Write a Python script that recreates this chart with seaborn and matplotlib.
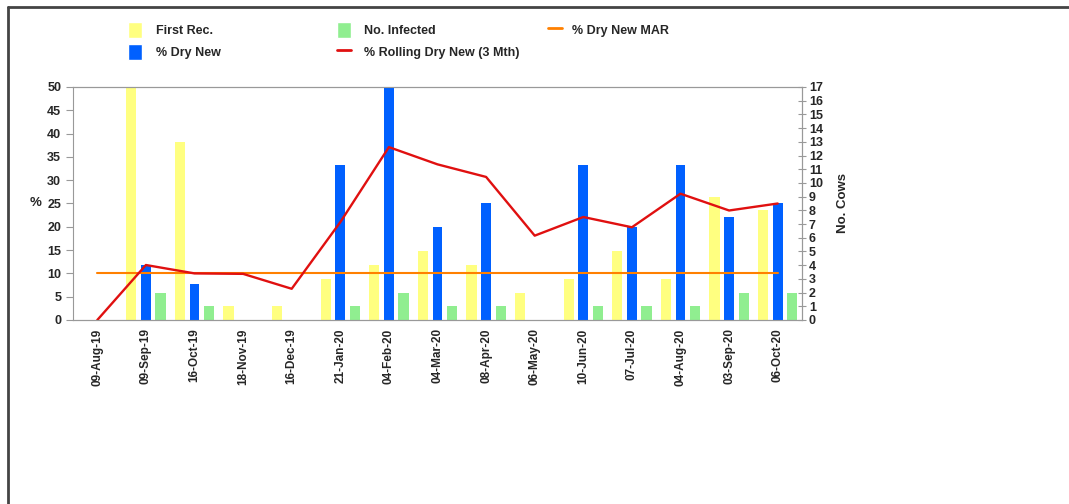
import numpy as np
import pandas as pd
import matplotlib
matplotlib.use("Agg")
import matplotlib.pyplot as plt
import seaborn as sns
from matplotlib.patches import Patch
from matplotlib.lines import Line2D

# ---------------- data ----------------
dates = ["09-Aug-19", "09-Sep-19", "16-Oct-19", "18-Nov-19", "16-Dec-19",
         "21-Jan-20", "04-Feb-20", "04-Mar-20", "08-Apr-20", "06-May-20",
         "10-Jun-20", "07-Jul-20", "04-Aug-20", "03-Sep-20", "06-Oct-20"]
first_rec = [0, 17, 13, 1, 1, 3, 4, 5, 4, 2, 3, 5, 3, 9, 8]          # cows
no_infected = [0, 2, 1, 0, 0, 1, 2, 1, 1, 0, 1, 1, 1, 2, 2]          # cows
pct_dry_new = [0, 11.8, 7.7, 0, 0, 33.3, 50, 20, 25, 0, 33.3, 20, 33.3, 22.2, 25]
pct_rolling = [0, 11.8, 10.0, 9.9, 6.7, 21.0, 37.1, 33.4, 30.7, 18.1, 22.1, 19.9, 27.1, 23.5, 25.0]
pct_mar = [10] * len(dates)

YELLOW = "#ffff80"
GREEN = "#90ee90"
BLUE = "#0060ff"
RED = "#e01010"
ORANGE = "#ff8000"
GREY = "#999999"

sns.set_style("white")
plt.rcParams['font.family'] = ['Liberation Sans', 'DejaVu Sans']
plt.rcParams['font.weight'] = 'bold'

fig = plt.figure(figsize=(10.69, 5.04), dpi=100)
ax = fig.add_axes([73 / 1069, 1 - 320 / 504, 729 / 1069, 233 / 504])
ax2 = ax.twinx()

# right axis: counts (yellow / green), dodged around the blue slot
hue_order = ["First Rec.", "% Dry New", "No. Infected"]
cows = pd.DataFrame({
    "date": dates * 2,
    "val": first_rec + no_infected,
    "series": ["First Rec."] * len(dates) + ["No. Infected"] * len(dates),
})
cows = cows[cows["val"] > 0]
sns.barplot(data=cows, x="date", y="val", hue="series", order=dates,
            hue_order=hue_order, palette={"First Rec.": YELLOW, "% Dry New": BLUE,
                                          "No. Infected": GREEN},
            width=0.9, gap=0.31, linewidth=0, saturation=1, legend=False, ax=ax2)

# left axis: percentages
dry = pd.DataFrame({"date": dates, "val": pct_dry_new})
sns.barplot(data=dry, x="date", y="val", order=dates, color=BLUE,
            width=0.2, linewidth=0, saturation=1, ax=ax)

xpos = np.arange(len(dates))
sns.lineplot(x=xpos, y=pct_mar, color=ORANGE, linewidth=1.5, ax=ax)
sns.lineplot(x=xpos, y=pct_rolling, color=RED, linewidth=1.7, ax=ax)

ax.set_zorder(ax2.get_zorder() + 1)
ax.patch.set_visible(False)

ax.set_xlim(-0.5, len(dates) - 0.5)
ax.set_ylim(0, 50)
ax2.set_ylim(0, 17)
ax.set_yticks(range(0, 51, 5))
ax2.set_yticks(range(0, 18))

# x ticks: boundaries as long lines, labels at centres
ax.set_xticks(np.arange(-0.5, len(dates) + 0.5, 1))
ax.set_xticklabels([])
ax.set_xticks(xpos, minor=True)
ax.set_xticklabels(dates, minor=True, rotation=90, fontsize=8.5, fontweight='bold')
ax.tick_params(axis='x', which='major', length=36, color='#bbbbbb', width=0.8)
ax.tick_params(axis='x', which='minor', length=0, pad=6)
ax.tick_params(axis='y', which='major', length=5, color=GREY, labelsize=9, direction='out')
ax2.tick_params(axis='y', length=6, color=GREY, labelsize=9, direction='inout', pad=2)
ax2.set_xlabel("")
ax.set_xlabel("")

ax.set_ylabel("%", rotation=0, fontsize=9.5, fontweight='bold', labelpad=8, va='center')
ax2.set_ylabel("No. Cows", fontsize=9.5, fontweight='bold', labelpad=10)

for a in (ax, ax2):
    for s in a.spines.values():
        s.set_color(GREY)
        s.set_linewidth(0.8)
ax2.spines['left'].set_visible(False)

# legend: two bar/line columns, then the MAR entry on its own
handles = [
    Patch(facecolor=YELLOW, label="First Rec."),
    Patch(facecolor=BLUE, label="% Dry New"),
    Patch(facecolor=GREEN, label="No. Infected"),
    Line2D([], [], color=RED, linewidth=2, label="% Rolling Dry New (3 Mth)"),
]
fig.legend(handles=handles, loc="upper left", bbox_to_anchor=(117 / 1069, 1 - 11 / 504),
           ncol=2, frameon=False, handlelength=1.1, handleheight=1.5,
           handletextpad=1.1, columnspacing=9.3, labelspacing=0.55,
           prop={'weight': 'bold', 'size': 9})
fig.legend(handles=[Line2D([], [], color=ORANGE, linewidth=2, label="% Dry New MAR")],
           loc="upper left", bbox_to_anchor=(537 / 1069, 1 - 11 / 504),
           frameon=False, handlelength=1.1, handleheight=1.5, handletextpad=0.8,
           prop={'weight': 'bold', 'size': 9})

# outer border (top and left)
fig.add_artist(Line2D([7.5 / 1069, 7.5 / 1069], [0, 1 - 6.5 / 504], color="#444444",
                      linewidth=2, transform=fig.transFigure))
fig.add_artist(Line2D([7.5 / 1069, 1], [1 - 6.5 / 504, 1 - 6.5 / 504], color="#444444",
                      linewidth=2, transform=fig.transFigure))

fig.savefig("out.png", dpi=100)
